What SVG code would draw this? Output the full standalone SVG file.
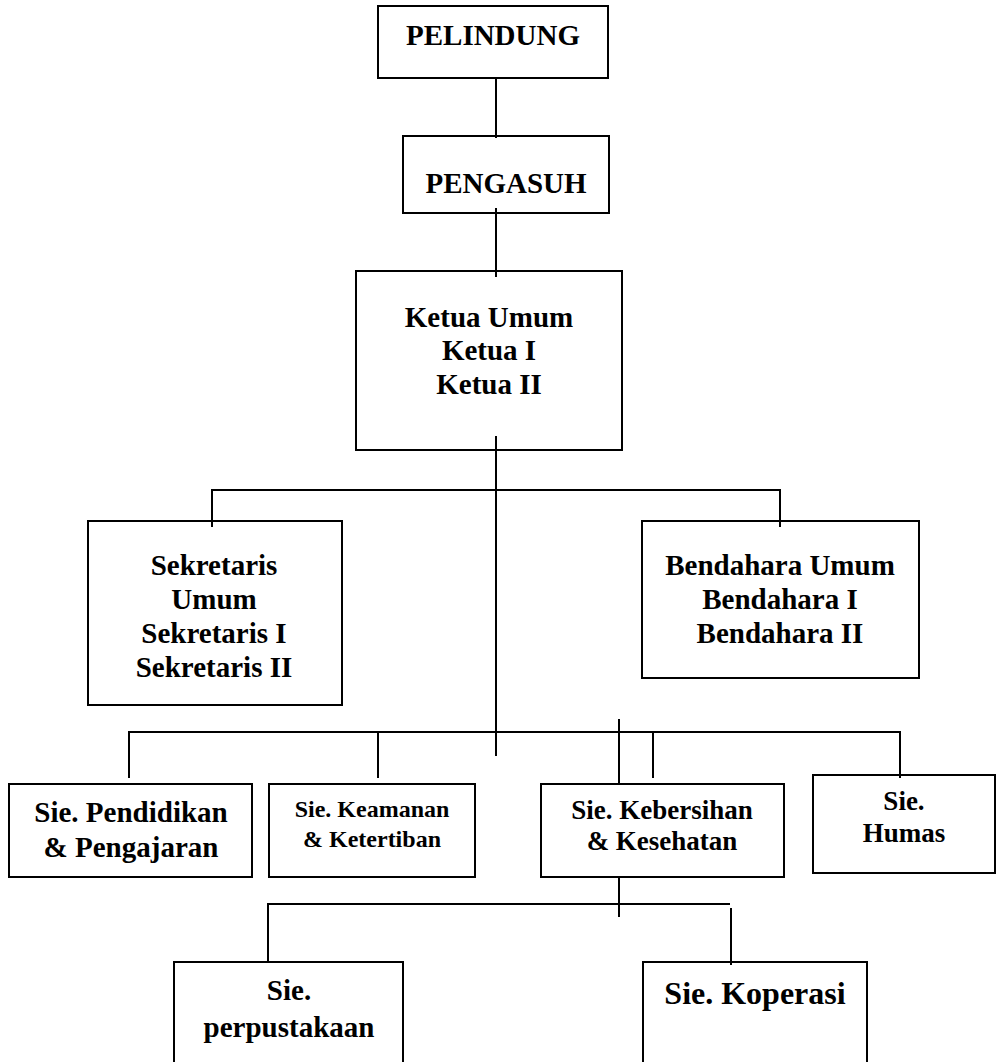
<svg xmlns="http://www.w3.org/2000/svg" width="998" height="1062" viewBox="0 0 998 1062">
<style>
.box{fill:none;stroke:#000;stroke-width:2}
.ln{fill:none;stroke:#000;stroke-width:2}
text{font-family:"Liberation Serif","Times New Roman",serif;font-weight:bold;fill:#000;text-anchor:middle}
.f28{font-size:29px}
.f23{font-size:24px}
.f26{font-size:27px}
.f31{font-size:32px}
</style>
<rect x="0" y="0" width="998" height="1062" fill="#fff"/>
<g id="pelindung"><rect class="box" x="378" y="6" width="230" height="72"/><text class="f28" x="493" y="45">PELINDUNG</text></g>
<g id="pengasuh"><rect class="box" x="403" y="136" width="206" height="77"/><text class="f28" x="506" y="193">PENGASUH</text></g>
<g id="ketua"><rect class="box" x="356" y="271" width="266" height="179"/><text class="f28" x="489" y="327">Ketua Umum</text><text class="f28" x="489" y="360">Ketua I</text><text class="f28" x="489" y="394">Ketua II</text></g>
<g id="sekretaris"><rect class="box" x="88" y="521" width="254" height="184"/><text class="f28" x="214" y="575">Sekretaris</text><text class="f28" x="214" y="609">Umum</text><text class="f28" x="214" y="643">Sekretaris I</text><text class="f28" x="214" y="677">Sekretaris II</text></g>
<g id="bendahara"><rect class="box" x="642" y="521" width="277" height="157"/><text class="f28" x="780" y="575">Bendahara Umum</text><text class="f28" x="780" y="609">Bendahara I</text><text class="f28" x="780" y="643">Bendahara II</text></g>
<g id="pendidikan"><rect class="box" x="9" y="784" width="243" height="93"/><text class="f28" x="131" y="822">Sie. Pendidikan</text><text class="f28" x="131" y="857">&amp; Pengajaran</text></g>
<g id="keamanan"><rect class="box" x="269" y="784" width="206" height="93"/><text class="f23" x="372" y="817">Sie. Keamanan</text><text class="f23" x="372" y="847">&amp; Ketertiban</text></g>
<g id="kebersihan"><rect class="box" x="541" y="784" width="243" height="93"/><text class="f26" x="662" y="819">Sie. Kebersihan</text><text class="f26" x="662" y="850">&amp; Kesehatan</text></g>
<g id="humas"><rect class="box" x="813" y="775" width="182" height="98"/><text class="f26" x="904" y="810">Sie.</text><text class="f26" x="904" y="842">Humas</text></g>
<g id="perpustakaan"><rect class="box" x="174" y="962" width="229" height="110"/><text class="f28" x="289" y="1000">Sie.</text><text class="f28" x="289" y="1037">perpustakaan</text></g>
<g id="koperasi"><rect class="box" x="643" y="962" width="224" height="110"/><text class="f31" x="755" y="1004">Sie. Koperasi</text></g>
<g id="connectors">
<line class="ln" x1="496" y1="78" x2="496" y2="138"/>
<line class="ln" x1="496" y1="208" x2="496" y2="277"/>
<line class="ln" x1="496" y1="436" x2="496" y2="756"/>
<path class="ln" d="M212 527 V490 H780 V527"/>
<path class="ln" d="M129 778 V732 H900 V778"/>
<line class="ln" x1="378" y1="732" x2="378" y2="778"/>
<line class="ln" x1="619" y1="719" x2="619" y2="784"/>
<line class="ln" x1="653" y1="732" x2="653" y2="778"/>
<line class="ln" x1="619" y1="877" x2="619" y2="917"/>
<path class="ln" d="M268 962 V904 H730"/>
<line class="ln" x1="731" y1="908" x2="731" y2="965"/>
</g>
</svg>
